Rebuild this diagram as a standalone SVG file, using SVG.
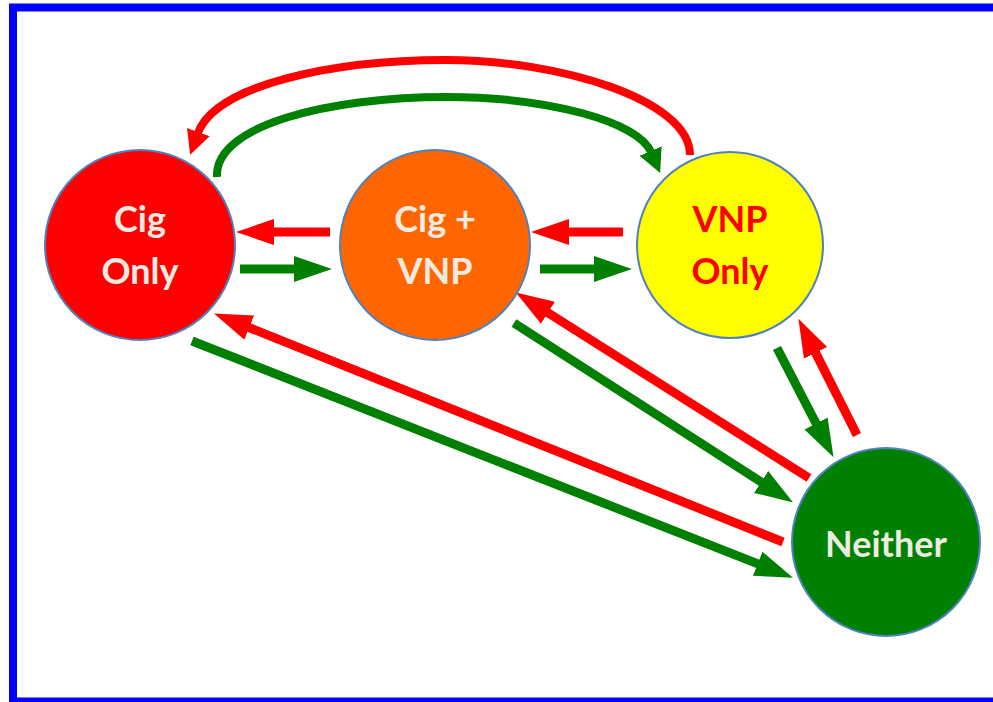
<svg xmlns="http://www.w3.org/2000/svg" width="993" height="702" viewBox="0 0 993 702">
<style>
.node{stroke:#4F81BD;stroke-width:2}
.lbl{font-family:Lato,"Open Sans","Liberation Sans",sans-serif;font-weight:bold;font-size:36px;text-anchor:middle;fill:#EEECE1}
.red{fill:#FF0000}
.r{stroke:#FF0000;stroke-width:9;fill:none}
.g{stroke:#008000;stroke-width:9;fill:none}
.c{stroke-width:8}
</style>
<defs>
<marker id="hr" markerUnits="userSpaceOnUse" markerWidth="40" markerHeight="28" viewBox="0 -14 40 28" refX="1" refY="0" orient="auto"><path d="M0,-13 L38,0 L0,13 z" fill="#FF0000"/></marker>
<marker id="hg" markerUnits="userSpaceOnUse" markerWidth="40" markerHeight="28" viewBox="0 -14 40 28" refX="1" refY="0" orient="auto"><path d="M0,-13 L38,0 L0,13 z" fill="#008000"/></marker>
<marker id="sr" markerUnits="userSpaceOnUse" markerWidth="26" markerHeight="26" viewBox="0 -13 26 26" refX="1" refY="0" orient="auto"><path d="M0,-12 L24,0 L0,12 z" fill="#FF0000"/></marker>
<marker id="sg" markerUnits="userSpaceOnUse" markerWidth="26" markerHeight="26" viewBox="0 -13 26 26" refX="1" refY="0" orient="auto"><path d="M0,-12 L24,0 L0,12 z" fill="#008000"/></marker>
</defs>
<rect x="0" y="0" width="993" height="702" fill="#FFFFFF"/>
<rect x="13" y="7.5" width="1000" height="694" fill="none" stroke="#0000FF" stroke-width="8"/>
<g id="connectors">
<path class="r c" d="M690,155 C690,100 560,60 446,60 C330,60 215,86 198,133" marker-end="url(#sr)"/>
<path class="g c" d="M217,177 C214,125 330,97 446,97 C550,97 638,122 651,152" marker-end="url(#sg)"/>
<path class="r" d="M330,232 L273,232" marker-end="url(#hr)"/>
<path class="g" d="M240,269 L295,269" marker-end="url(#hg)"/>
<path class="r" d="M623,232 L568,232" marker-end="url(#hr)"/>
<path class="g" d="M540,269 L595,269" marker-end="url(#hg)"/>
<path class="g" d="M192,341 L758.6,564.1" marker-end="url(#hg)"/>
<path class="r" d="M783,542 L248.3,327.2" marker-end="url(#hr)"/>
<path class="g" d="M514,323 L762,482.5" marker-end="url(#hg)"/>
<path class="r" d="M809,478 L547.1,312.3" marker-end="url(#hr)"/>
<path class="g" d="M777,348 L816.5,424.3" marker-end="url(#hg)"/>
<path class="r" d="M857,435 L815.1,351.9" marker-end="url(#hr)"/>
</g>
<g id="cig-only">
<circle class="node" cx="140" cy="245" r="95" fill="#FF0000"/>
<text class="lbl" x="140" y="232">Cig</text>
<text class="lbl" x="140" y="284">Only</text>
</g>
<g id="cig-vnp">
<circle class="node" cx="435" cy="245" r="95" fill="#FF6600"/>
<text class="lbl" x="435" y="232">Cig +</text>
<text class="lbl" x="435" y="284">VNP</text>
</g>
<g id="vnp-only">
<circle class="node" cx="730" cy="245" r="93" fill="#FFFF00"/>
<text class="lbl red" x="730" y="232">VNP</text>
<text class="lbl red" x="730" y="284">Only</text>
</g>
<g id="neither">
<circle class="node" cx="886" cy="542" r="94" fill="#008000"/>
<text class="lbl" x="886" y="557">Neither</text>
</g>
</svg>
